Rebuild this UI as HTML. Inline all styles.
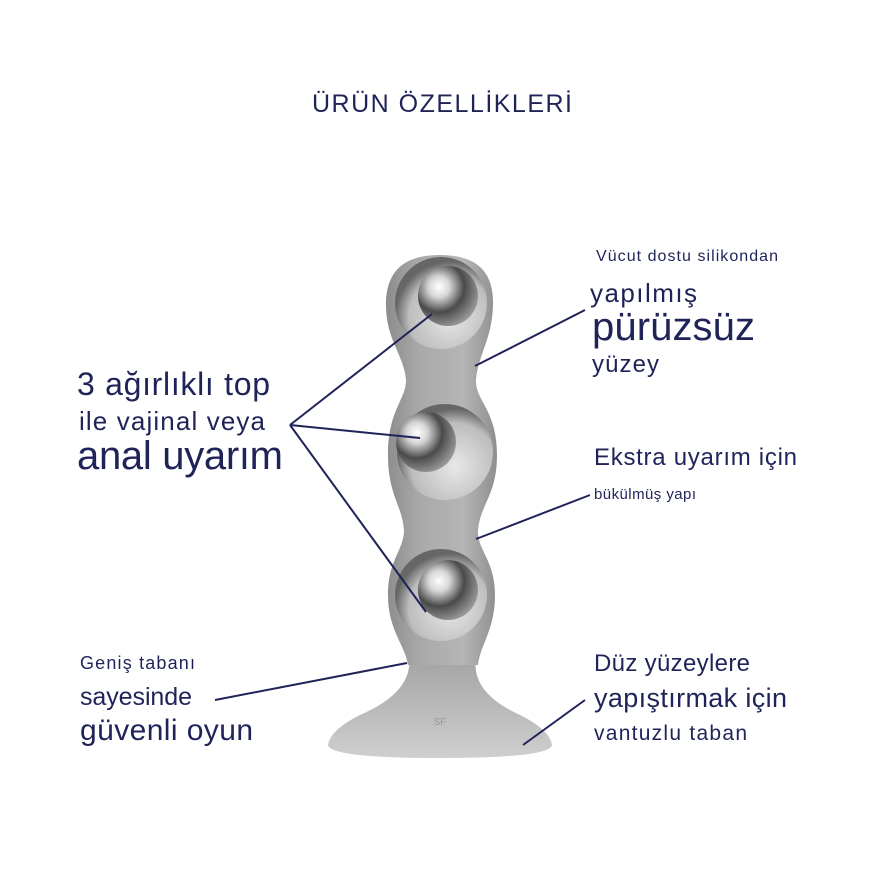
<!DOCTYPE html>
<html><head><meta charset="utf-8"><style>
html,body{margin:0;padding:0;background:#fff;}
svg{display:block}
text{font-family:"Liberation Sans","DejaVu Sans",sans-serif;fill:#1f2358;}
</style></head><body>
<svg width="880" height="880" viewBox="0 0 880 880">
<defs>
<linearGradient id="body" x1="0" x2="1">
<stop offset="0" stop-color="#8c8c8c"/><stop offset="0.3" stop-color="#a9a9a9"/><stop offset="0.7" stop-color="#b5b5b5"/><stop offset="1" stop-color="#8e8e8e"/>
</linearGradient>
<linearGradient id="base" x1="0" y1="0" x2="0" y2="1">
<stop offset="0" stop-color="#a0a0a0"/><stop offset="1" stop-color="#cfcfcf"/>
</linearGradient>
<radialGradient id="cav" cx="0.6" cy="0.65" r="0.6">
<stop offset="0" stop-color="#e8e8e8"/><stop offset="0.75" stop-color="#bdbdbd"/><stop offset="1" stop-color="#666"/>
</radialGradient>
<radialGradient id="ball" cx="0.35" cy="0.35" r="0.7">
<stop offset="0" stop-color="#ffffff"/><stop offset="0.25" stop-color="#d6d6d6"/><stop offset="0.6" stop-color="#4a4a4a"/><stop offset="1" stop-color="#9a9a9a"/>
</radialGradient>
</defs>
<text x="312" y="112" font-size="25" textLength="260">ÜRÜN ÖZELLİKLERİ</text>

<path d="M408 650 Q418 690 360 715 Q330 730 328 745 Q330 758 440 758 Q550 758 552 745 Q550 730 520 715 Q465 690 478 650 Z" fill="url(#base)"/>
<path d="M440 255 C480 255 494 275 493 305 C492 340 478 355 476 380 C475 400 497 410 497 455 C497 495 480 505 478 530 C477 550 495 560 495 595 C495 630 480 645 478 665 L408 665 C405 645 388 630 388 595 C388 560 404 550 404 530 C402 505 388 495 388 455 C388 410 406 400 406 380 C404 355 386 340 386 305 C386 275 400 255 440 255 Z" fill="url(#body)"/>
<circle cx="441" cy="303" r="46" fill="url(#cav)"/>
<circle cx="448" cy="296" r="30" fill="url(#ball)"/>
<circle cx="445" cy="452" r="48" fill="url(#cav)"/>
<circle cx="426" cy="442" r="30" fill="url(#ball)"/>
<circle cx="441" cy="595" r="46" fill="url(#cav)"/>
<circle cx="448" cy="590" r="30" fill="url(#ball)"/>
<text x="440" y="725" text-anchor="middle" font-size="10" style="fill:#999">SF</text>

<g stroke="#1f2358" stroke-width="2" fill="none">
<line x1="290" y1="425" x2="432" y2="314"/>
<line x1="290" y1="425" x2="420" y2="438"/>
<line x1="290" y1="425" x2="426" y2="612"/>
<line x1="475" y1="366" x2="585" y2="310"/>
<line x1="476" y1="539" x2="590" y2="495"/>
<line x1="523" y1="745" x2="585" y2="700"/>
<line x1="215" y1="700" x2="407" y2="663"/>
</g>

<text x="77" y="395" font-size="32" textLength="193">3 ağırlıklı top</text>
<text x="79" y="430" font-size="26" textLength="186">ile vajinal veya</text>
<text x="77" y="469" font-size="40" textLength="206">anal uyarım</text>

<text x="596" y="261" font-size="16" textLength="182">Vücut dostu silikondan</text>
<text x="590" y="302" font-size="26" textLength="107">yapılmış</text>
<text x="592" y="340" font-size="40" textLength="163">pürüzsüz</text>
<text x="592" y="372" font-size="24" textLength="67">yüzey</text>

<text x="594" y="465" font-size="24" textLength="203">Ekstra uyarım için</text>
<text x="594" y="499" font-size="15" textLength="102">bükülmüş yapı</text>

<text x="594" y="671" font-size="24" textLength="156">Düz yüzeylere</text>
<text x="594" y="707" font-size="27" textLength="193">yapıştırmak için</text>
<text x="594" y="740" font-size="21" textLength="153">vantuzlu taban</text>

<text x="80" y="669" font-size="18" textLength="115">Geniş tabanı</text>
<text x="80" y="705" font-size="25" textLength="112">sayesinde</text>
<text x="80" y="740" font-size="30" textLength="173">güvenli oyun</text>
</svg>
</body></html>
